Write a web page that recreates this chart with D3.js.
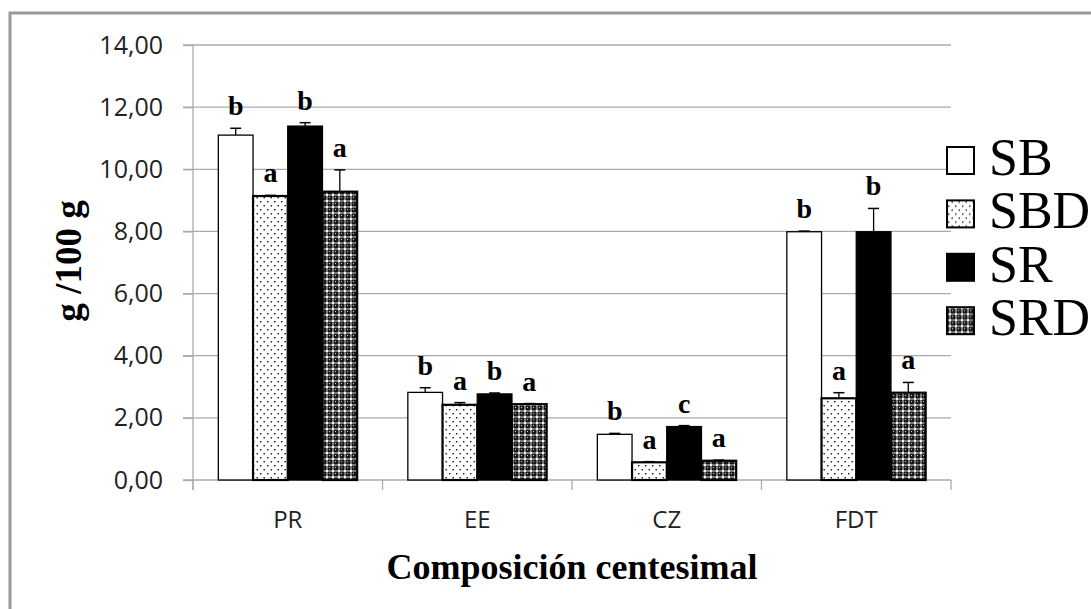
<!DOCTYPE html>
<html>
<head>
<meta charset="utf-8">
<script src="https://cdn.jsdelivr.net/npm/d3@7"></script>
<style>
  html, body { margin: 0; padding: 0; background: #fff; }
  svg { display: block; }
</style>
</head>
<body>
<svg id="chart" width="1091" height="609"></svg>
<script>
// Proximate composition (g/100 g) of four samples
const categories = ["PR", "EE", "CZ", "FDT"];
const seriesNames = ["SB", "SBD", "SR", "SRD"];

const valuesSB  = [11.10, 2.82, 1.47, 7.99];
const valuesSBD = [9.14, 2.42, 0.57, 2.63];
const valuesSR  = [11.39, 2.77, 1.72, 7.99];
const valuesSRD = [9.28, 2.44, 0.62, 2.81];

const errorsSB  = [0.22, 0.15, 0.03, 0.02];
const errorsSBD = [0.02, 0.07, 0.02, 0.18];
const errorsSR  = [0.11, 0.03, 0.03, 0.75];
const errorsSRD = [0.70, 0.02, 0.02, 0.33];

const lettersSB  = ["b", "b", "b", "b"];
const lettersSBD = ["a", "a", "a", "a"];
const lettersSR  = ["b", "b", "c", "b"];
const lettersSRD = ["a", "a", "a", "a"];

const yTickValues = [0, 2, 4, 6, 8, 10, 12, 14];

const series = [
  { name: "SB",  values: valuesSB,  errors: errorsSB,  letters: lettersSB },
  { name: "SBD", values: valuesSBD, errors: errorsSBD, letters: lettersSBD },
  { name: "SR",  values: valuesSR,  errors: errorsSR,  letters: lettersSR },
  { name: "SRD", values: valuesSRD, errors: errorsSRD, letters: lettersSRD }
];

const svg = d3.select("#chart");

// Fill patterns
const defs = svg.append("defs");
const dots = defs.append("pattern").attr("id", "pat-dots")
  .attr("patternUnits", "userSpaceOnUse").attr("width", 7).attr("height", 8);
dots.append("rect").attr("width", 7).attr("height", 8).attr("fill", "#fff");
dots.append("rect").attr("x", 1).attr("y", 1).attr("width", 1.4).attr("height", 1.4).attr("fill", "#111");
dots.append("rect").attr("x", 4.5).attr("y", 5).attr("width", 1.4).attr("height", 1.4).attr("fill", "#111");

const check = defs.append("pattern").attr("id", "pat-check")
  .attr("patternUnits", "userSpaceOnUse").attr("width", 6).attr("height", 6);
check.append("rect").attr("width", 6).attr("height", 6).attr("fill", "#1a1a1a");
check.append("rect").attr("x", 2).attr("y", 0).attr("width", 2).attr("height", 6).attr("fill", "#7a7a7a");
check.append("rect").attr("x", 0).attr("y", 2).attr("width", 6).attr("height", 2).attr("fill", "#7a7a7a");
check.append("rect").attr("x", 2).attr("y", 2).attr("width", 2).attr("height", 2).attr("fill", "#f4f4f4");
check.append("rect").attr("x", 5).attr("y", 5).attr("width", 1).attr("height", 1).attr("fill", "#cfcfcf");

const fills = { SB: "#ffffff", SBD: "url(#pat-dots)", SR: "#000000", SRD: "url(#pat-check)" };
const strokeW = { SB: 1.3, SBD: 2.2, SR: 1.3, SRD: 2.2 };

// Outer chart frame
svg.append("path")
  .attr("d", "M10,625 L10,13 L1100,13")
  .attr("fill", "none").attr("stroke", "#9a9a9a").attr("stroke-width", 3);

// Plot geometry
const plotLeft = 193, plotRight = 951, plotTop = 45, plotBottom = 480;

const y = d3.scaleLinear().domain([0, 14]).range([plotBottom, plotTop]);
const x = d3.scaleBand().domain(categories).range([plotLeft, plotRight]).padding(0);
const xs = d3.scaleBand().domain(seriesNames).range([0, x.bandwidth()])
  .paddingInner(0).paddingOuter(0.73);

// Horizontal gridlines
const grid = svg.append("g");
grid.selectAll("line").data(yTickValues).join("line")
  .attr("x1", plotLeft - 10).attr("x2", plotRight)
  .attr("y1", d => y(d)).attr("y2", d => y(d))
  .attr("stroke", "#ababab").attr("stroke-width", 1.3);

// Y axis with tick labels
const yAxis = svg.append("g").attr("transform", `translate(${plotLeft},0)`)
  .call(d3.axisLeft(y).tickValues(yTickValues).tickSize(10).tickPadding(20)
    .tickFormat(d => d.toFixed(2).replace(".", ",")));
yAxis.select(".domain").remove();
yAxis.selectAll(".tick line").attr("stroke", "#ababab").attr("stroke-width", 1.3);
yAxis.selectAll(".tick text")
  .attr("font-family", "'Open Sans', sans-serif").attr("font-size", 25).attr("fill", "#222");
svg.append("line")
  .attr("x1", plotLeft).attr("x2", plotLeft).attr("y1", plotTop).attr("y2", plotBottom + 10)
  .attr("stroke", "#ababab").attr("stroke-width", 1.3);

// X axis: category separators and labels
const xAxis = svg.append("g").attr("transform", `translate(0,${plotBottom})`)
  .call(d3.axisBottom(x).tickSize(0).tickPadding(31));
xAxis.select(".domain").remove();
xAxis.selectAll(".tick text")
  .attr("font-family", "'Open Sans', sans-serif").attr("font-size", 24).attr("fill", "#222");
const bounds = categories.map(c => x(c)).concat([x(categories[categories.length - 1]) + x.bandwidth()]);
svg.append("g").selectAll("line").data(bounds).join("line")
  .attr("x1", d => d).attr("x2", d => d)
  .attr("y1", plotBottom).attr("y2", plotBottom + 10)
  .attr("stroke", "#ababab").attr("stroke-width", 1.3);

// Bars, error bars and significance letters
const groups = svg.append("g").selectAll("g").data(series).join("g");

groups.each(function (s) {
  const g = d3.select(this);
  const recs = categories.map((c, i) => ({ c, v: s.values[i], e: s.errors[i], l: s.letters[i] }));
  const bw = xs.bandwidth();

  g.selectAll("rect.bar").data(recs).join("rect").attr("class", "bar")
    .attr("x", d => x(d.c) + xs(s.name))
    .attr("y", d => y(d.v))
    .attr("width", bw)
    .attr("height", d => y(0) - y(d.v))
    .attr("fill", fills[s.name])
    .attr("stroke", "#000").attr("stroke-width", strokeW[s.name]);

  const cx = d => x(d.c) + xs(s.name) + bw / 2;
  g.selectAll("line.err").data(recs).join("line").attr("class", "err")
    .attr("x1", cx).attr("x2", cx)
    .attr("y1", d => y(d.v)).attr("y2", d => y(d.v + d.e))
    .attr("stroke", "#000").attr("stroke-width", 1.3);
  g.selectAll("line.cap").data(recs).join("line").attr("class", "cap")
    .attr("x1", d => cx(d) - 5.5).attr("x2", d => cx(d) + 5.5)
    .attr("y1", d => y(d.v + d.e)).attr("y2", d => y(d.v + d.e))
    .attr("stroke", "#000").attr("stroke-width", 1.5);

  g.selectAll("text.sig").data(recs).join("text").attr("class", "sig")
    .attr("x", cx)
    .attr("y", d => y(d.v + d.e) - 13)
    .attr("text-anchor", "middle")
    .attr("font-family", "'Liberation Serif', 'Times New Roman', serif")
    .attr("font-weight", "bold").attr("font-size", 28).attr("fill", "#000")
    .text(d => d.l);
});

// Legend
const legend = svg.append("g").attr("transform", "translate(947,0)");
const legendItems = legend.selectAll("g").data(seriesNames).join("g")
  .attr("transform", (d, i) => `translate(0,${175 + i * 53.4})`);
legendItems.append("rect")
  .attr("x", 0).attr("y", -28).attr("width", 27).attr("height", 27)
  .attr("fill", d => fills[d]).attr("stroke", "#000").attr("stroke-width", 2);
legendItems.append("text")
  .attr("x", 42).attr("y", 0)
  .attr("font-family", "'Liberation Serif', 'Times New Roman', serif")
  .attr("font-size", 52).attr("fill", "#000")
  .text(d => d);

// Axis titles
svg.append("text")
  .attr("transform", "translate(81,261) rotate(-90)")
  .attr("text-anchor", "middle")
  .attr("font-family", "'Liberation Serif', 'Times New Roman', serif")
  .attr("font-weight", "bold").attr("font-size", 37).attr("fill", "#000")
  .text("g /100 g");

svg.append("text")
  .attr("x", (plotLeft + plotRight) / 2).attr("y", 579)
  .attr("text-anchor", "middle")
  .attr("font-family", "'Liberation Serif', 'Times New Roman', serif")
  .attr("font-weight", "bold").attr("font-size", 36).attr("fill", "#000")
  .text("Composición centesimal");
</script>
</body>
</html>
